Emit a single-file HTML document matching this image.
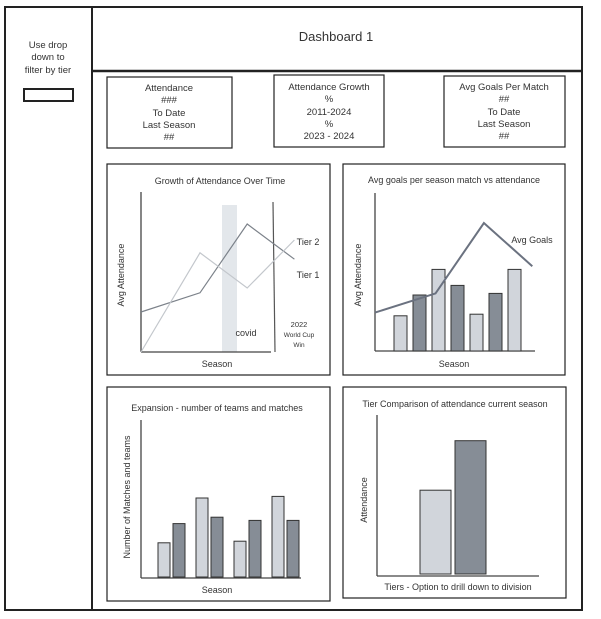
<!DOCTYPE html>
<html><head><meta charset="utf-8"><style>
html,body{margin:0;padding:0;background:#fff;width:601px;height:619px;overflow:hidden}
svg{display:block}
text{font-family:"Liberation Sans",sans-serif;fill:#333}
</style></head><body>
<svg id="s" width="601" height="619" viewBox="0 0 601 619">
<g fill="none" stroke="#222">
<rect x="5" y="7" width="87" height="603" stroke-width="2"/>
<rect x="92" y="7" width="490" height="603" stroke-width="2"/>
<line x1="92" y1="71" x2="582" y2="71" stroke-width="2.5"/>
<rect x="24" y="89" width="49" height="12" stroke-width="2"/>
<rect x="107" y="77" width="125" height="71" stroke-width="1.2"/>
<rect x="274" y="75" width="110" height="72" stroke-width="1.2"/>
<rect x="444" y="76" width="121" height="71" stroke-width="1.2"/>
<rect x="107" y="164" width="223" height="211" stroke-width="1.2"/>
<rect x="343" y="164" width="222" height="211" stroke-width="1.2"/>
<rect x="107" y="387" width="223" height="214" stroke-width="1.2"/>
<rect x="343" y="387" width="223" height="211" stroke-width="1.2"/>
</g>
<g id="c1"></g><g id="c2"></g><g id="c3"></g><g id="c4"></g>
<g font-size="9.5" text-anchor="middle">
<text x="48" y="48">Use drop</text>
<text x="48" y="60">down to</text>
<text x="48" y="73">filter by tier</text>
<text x="336" y="41" font-size="13">Dashboard 1</text>
<text x="169" y="91">Attendance</text><text x="169" y="103">###</text><text x="169" y="116">To Date</text><text x="169" y="128">Last Season</text><text x="169" y="140">##</text>
<text x="329" y="90">Attendance Growth</text><text x="329" y="102">%</text><text x="329" y="115">2011-2024</text><text x="329" y="127">%</text><text x="329" y="139">2023 - 2024</text>
<text x="504" y="90">Avg Goals Per Match</text><text x="504" y="102">##</text><text x="504" y="115">To Date</text><text x="504" y="127">Last Season</text><text x="504" y="139">##</text>
<text x="220" y="184" font-size="9">Growth of Attendance Over Time</text>
<text x="217" y="367" font-size="9">Season</text>
<text x="124" y="275" font-size="9" transform="rotate(-90 124 275)">Avg Attendance</text>
<text x="454" y="183" font-size="9">Avg goals per season match vs attendance</text>
<text x="454" y="367" font-size="9">Season</text>
<text x="361" y="275" font-size="9" transform="rotate(-90 361 275)">Avg Attendance</text>
<text x="217" y="411" font-size="9">Expansion - number of teams and matches</text>
<text x="217" y="593" font-size="9">Season</text>
<text x="130" y="497" font-size="9" transform="rotate(-90 130 497)">Number of Matches and teams</text>
<text x="455" y="407" font-size="9">Tier Comparison of attendance current season</text>
<text x="458" y="590" font-size="9">Tiers - Option to drill down to division</text>
<text x="367" y="500" font-size="9" transform="rotate(-90 367 500)">Attendance</text>
<text x="246" y="336" font-size="9">covid</text>
<text x="299" y="327" font-size="7.5">2022</text><text x="299" y="337" font-size="6.5">World Cup</text><text x="299" y="347" font-size="6.5">Win</text>
<text x="308" y="245" font-size="9">Tier 2</text><text x="308" y="278" font-size="9">Tier 1</text>
<text x="532" y="243" font-size="9">Avg Goals</text>
</g>
</svg>
<script>
// Chart 1: growth (relative 0-100 scale)
const c1Seasons = [2011, 2016, 2020, 2024];
const c1Tier1 = [25, 37, 80, 58];
const c1Tier2 = [0, 62, 40, 70];
// Chart 2: goals vs attendance
const c2Bars = [22, 35, 51, 41, 23, 36, 51];
const c2GoalSeasons = [0, 5, 9, 13];
const c2Goals = [24, 36, 80, 53];
// Chart 3: expansion
const c3Bars = [22, 34, 50, 38, 23, 36, 51, 36];
// Chart 4: tier comparison
const c4Tiers = ["Tier 1", "Tier 2"];
const c4Values = [52, 82];

const NS = "http://www.w3.org/2000/svg";
function mk(p, t, a) { const e = document.createElementNS(NS, t); for (const k in a) e.setAttribute(k, a[k]); p.appendChild(e); return e; }
const light = "#d1d5db", dark = "#868d96";

// chart 1
(function () {
  const g = document.getElementById("c1");
  const x = s => 141 + (s - 2011) * 11.8, y = v => 352 - v * 1.6;
  mk(g, "rect", { x: 222, y: 205, width: 15, height: 147, fill: "#e3e7eb" });
  mk(g, "line", { x1: 141, y1: 192, x2: 141, y2: 352, stroke: "#444", "stroke-width": 1.3 });
  mk(g, "line", { x1: 141, y1: 352, x2: 271, y2: 352, stroke: "#444", "stroke-width": 1.3 });
  mk(g, "line", { x1: 273, y1: 202, x2: 275, y2: 352, stroke: "#555", "stroke-width": 1.2 });
  const l1 = mk(g, "polyline", { points: c1Seasons.map((s, i) => x(s) + "," + y(c1Tier1[i])).join(" "), fill: "none", stroke: "#7c828a", "stroke-width": 1.2 });
  
  
  const l2 = mk(g, "polyline", { points: c1Seasons.map((s, i) => x(s) + "," + y(c1Tier2[i])).join(" "), fill: "none", stroke: "#c3c7cc", "stroke-width": 1.2 });
  
  
})();

// chart 2
(function () {
  const g = document.getElementById("c2");
  const y = v => 351 - v * 1.6;
  mk(g, "line", { x1: 375, y1: 193, x2: 375, y2: 351, stroke: "#444", "stroke-width": 1.3 });
  mk(g, "line", { x1: 375, y1: 351, x2: 535, y2: 351, stroke: "#444", "stroke-width": 1.3 });
  c2Bars.forEach((v, i) => {
    const r = mk(g, "rect", { x: 394 + i * 19, y: y(v), width: 13, height: 351 - y(v), fill: i % 2 ? dark : light, stroke: "#333", "stroke-width": 1 });
    
    
  });
  const gx = s => 375 + s * 12.1;
  const l = mk(g, "polyline", { points: c2Goals.map((v, i) => gx(c2GoalSeasons[i]) + "," + y(v)).join(" "), fill: "none", stroke: "#6b7280", "stroke-width": 2 });
  
  
})();

// chart 3
(function () {
  const g = document.getElementById("c3");
  const y = v => 578 - v * 1.6;
  mk(g, "line", { x1: 141, y1: 420, x2: 141, y2: 578, stroke: "#444", "stroke-width": 1.3 });
  mk(g, "line", { x1: 141, y1: 578, x2: 301, y2: 578, stroke: "#444", "stroke-width": 1.3 });
  c3Bars.forEach((v, i) => {
    const grp = Math.floor(i / 2), k = i % 2;
    const r = mk(g, "rect", { x: 158 + grp * 38 + k * 15, y: y(v), width: 12, height: 577 - y(v), fill: k ? dark : light, stroke: "#333", "stroke-width": 1 });
    
    
  });
})();

// chart 4
(function () {
  const g = document.getElementById("c4");
  const y = v => 576 - v * 1.65;
  mk(g, "line", { x1: 377, y1: 415, x2: 377, y2: 576, stroke: "#444", "stroke-width": 1.3 });
  mk(g, "line", { x1: 377, y1: 576, x2: 539, y2: 576, stroke: "#444", "stroke-width": 1.3 });
  c4Values.forEach((v, i) => {
    const r = mk(g, "rect", { x: 420 + i * 35, y: y(v), width: 31, height: 574 - y(v), fill: i ? dark : light, stroke: "#333", "stroke-width": 1 });
    
    
  });
})();
</script>
</body></html>
